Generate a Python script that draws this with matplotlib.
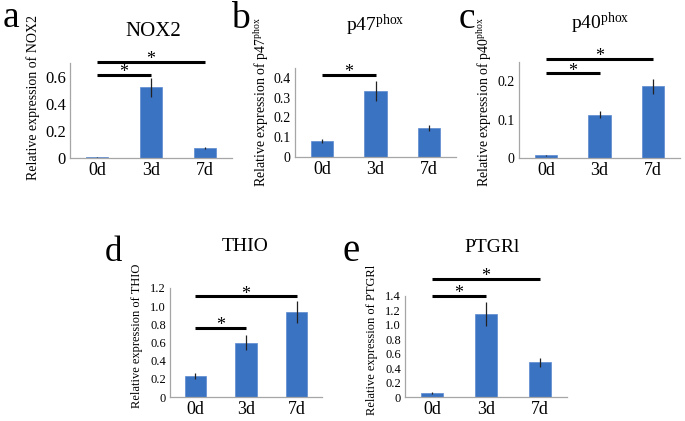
import matplotlib
matplotlib.use('Agg')
import matplotlib.pyplot as plt
import numpy as np

plt.rcParams['font.family'] = ['Liberation Serif', 'DejaVu Serif']
plt.rcParams['mathtext.fontset'] = 'custom'
plt.rcParams['mathtext.rm'] = 'Liberation Serif'
plt.rcParams['mathtext.it'] = 'Liberation Serif:italic'

categories = ['0d', '3d', '7d']

# values
nox2_mean = [0.005, 0.52, 0.073]
nox2_err = [0.002, 0.07, 0.01]
p47_mean = [0.083, 0.335, 0.145]
p47_err = [0.01, 0.05, 0.015]
p40_mean = [0.007, 0.113, 0.187]
p40_err = [0.002, 0.01, 0.02]
thio_mean = [0.23, 0.60, 0.94]
thio_err = [0.03, 0.08, 0.12]
ptgr1_mean = [0.06, 1.15, 0.48]
ptgr1_err = [0.015, 0.16, 0.065]

W, H = 685, 421
bar_color = '#3b73c3'

fig = plt.figure(figsize=(6.85, 4.21), dpi=100)


def px(x, y):
    return x / W, 1 - y / H


def panel(box, means, errs, ylim, yticks, yticklabels, ytick_fs, sig,
          title, title_xy, title_fs, letter, letter_xy, letter_fs,
          ylabel, ylabel_xy, ylabel_fs):
    x0, y0, x1, y1 = box
    ax = fig.add_axes([x0 / W, 1 - y1 / H, (x1 - x0) / W, (y1 - y0) / H])
    x = np.arange(len(categories))
    ax.bar(x, means, 0.42, color=bar_color, edgecolor='#5a8ad0', linewidth=0.5)
    ax.errorbar(x, means, yerr=errs, fmt='none', ecolor='#222222', elinewidth=0.9, capsize=0)
    ax.set_xlim(-0.5, 2.5)
    ax.set_ylim(*ylim)
    ax.set_xticks(x)
    ax.set_xticklabels(categories, fontsize=13)
    ax.set_yticks(yticks)
    ax.set_yticklabels(yticklabels, fontsize=ytick_fs)
    ax.tick_params(length=0, pad=3)
    for s in ['top', 'right']:
        ax.spines[s].set_visible(False)
    for s in ['left', 'bottom']:
        ax.spines[s].set_color('#a6a6a6')
        ax.spines[s].set_linewidth(0.9)
    for i, j, yv in sig:
        ax.plot([i, j], [yv, yv], color='black', lw=2.2, clip_on=False, solid_capstyle='butt')
        ax.annotate('*', xy=((i + j) / 2, yv), xytext=(0, 1.5), textcoords='offset points',
                    ha='center', va='center', fontsize=13, annotation_clip=False)
    fig.text(*px(*title_xy), title, ha='center', va='center', fontsize=title_fs)
    fig.text(*px(*letter_xy), letter, ha='center', va='baseline', fontsize=letter_fs)
    fig.text(*px(*ylabel_xy), ylabel, ha='center', va='center', rotation=90, fontsize=ylabel_fs)
    return ax


panel((70, 63, 232, 158), nox2_mean, nox2_err, (0, 0.7),
      [0, 0.2, 0.4, 0.6], ['0', '0.2', '0.4', '0.6'], 12,
      [(0, 2, 0.708), (0, 1, 0.613)],
      'NOX2', (153, 32), 15, 'a', (11, 27), 27,
      'Relative expression of NOX2', (33, 97), 10)

panel((295, 68, 456, 157), p47_mean, p47_err, (0, 0.45),
      [0, 0.1, 0.2, 0.3, 0.4], ['0', '0.1', '0.2', '0.3', '0.4'], 10,
      [(0, 1, 0.415)],
      'p47$^{\\mathrm{phox}}$', (375, 25), 14, 'b', (240, 28), 27,
      'Relative expression of p47$^{\\mathrm{phox}}$', (262, 102), 10)

panel((519, 62, 680, 158), p40_mean, p40_err, (0, 0.25),
      [0, 0.1, 0.2], ['0', '0.1', '0.2'], 10,
      [(0, 2, 0.258), (0, 1, 0.221)],
      'p40$^{\\mathrm{phox}}$', (600, 23), 14, 'c', (467, 28), 27,
      'Relative expression of p40$^{\\mathrm{phox}}$', (485, 102), 10)

panel((170, 288, 322, 397), thio_mean, thio_err, (0, 1.2),
      np.arange(0, 1.21, 0.2), ['0', '0.2', '0.4', '0.6', '0.8', '1.0', '1.2'], 9,
      [(0, 2, 1.11), (0, 1, 0.76)],
      'THIO', (245, 247), 14, 'd', (113, 261), 25,
      'Relative expression of THIO', (137, 336), 9)

panel((405, 296, 567, 397), ptgr1_mean, ptgr1_err, (0, 1.4),
      np.arange(0, 1.41, 0.2), ['0', '0.2', '0.4', '0.6', '0.8', '1.0', '1.2', '1.4'], 9,
      [(0, 2, 1.64), (0, 1, 1.40)],
      'PTGRl', (492, 248), 14, 'e', (351, 261), 28,
      'Relative expression of PTGRl', (372, 340), 9)

fig.savefig('out.png', dpi=100)
